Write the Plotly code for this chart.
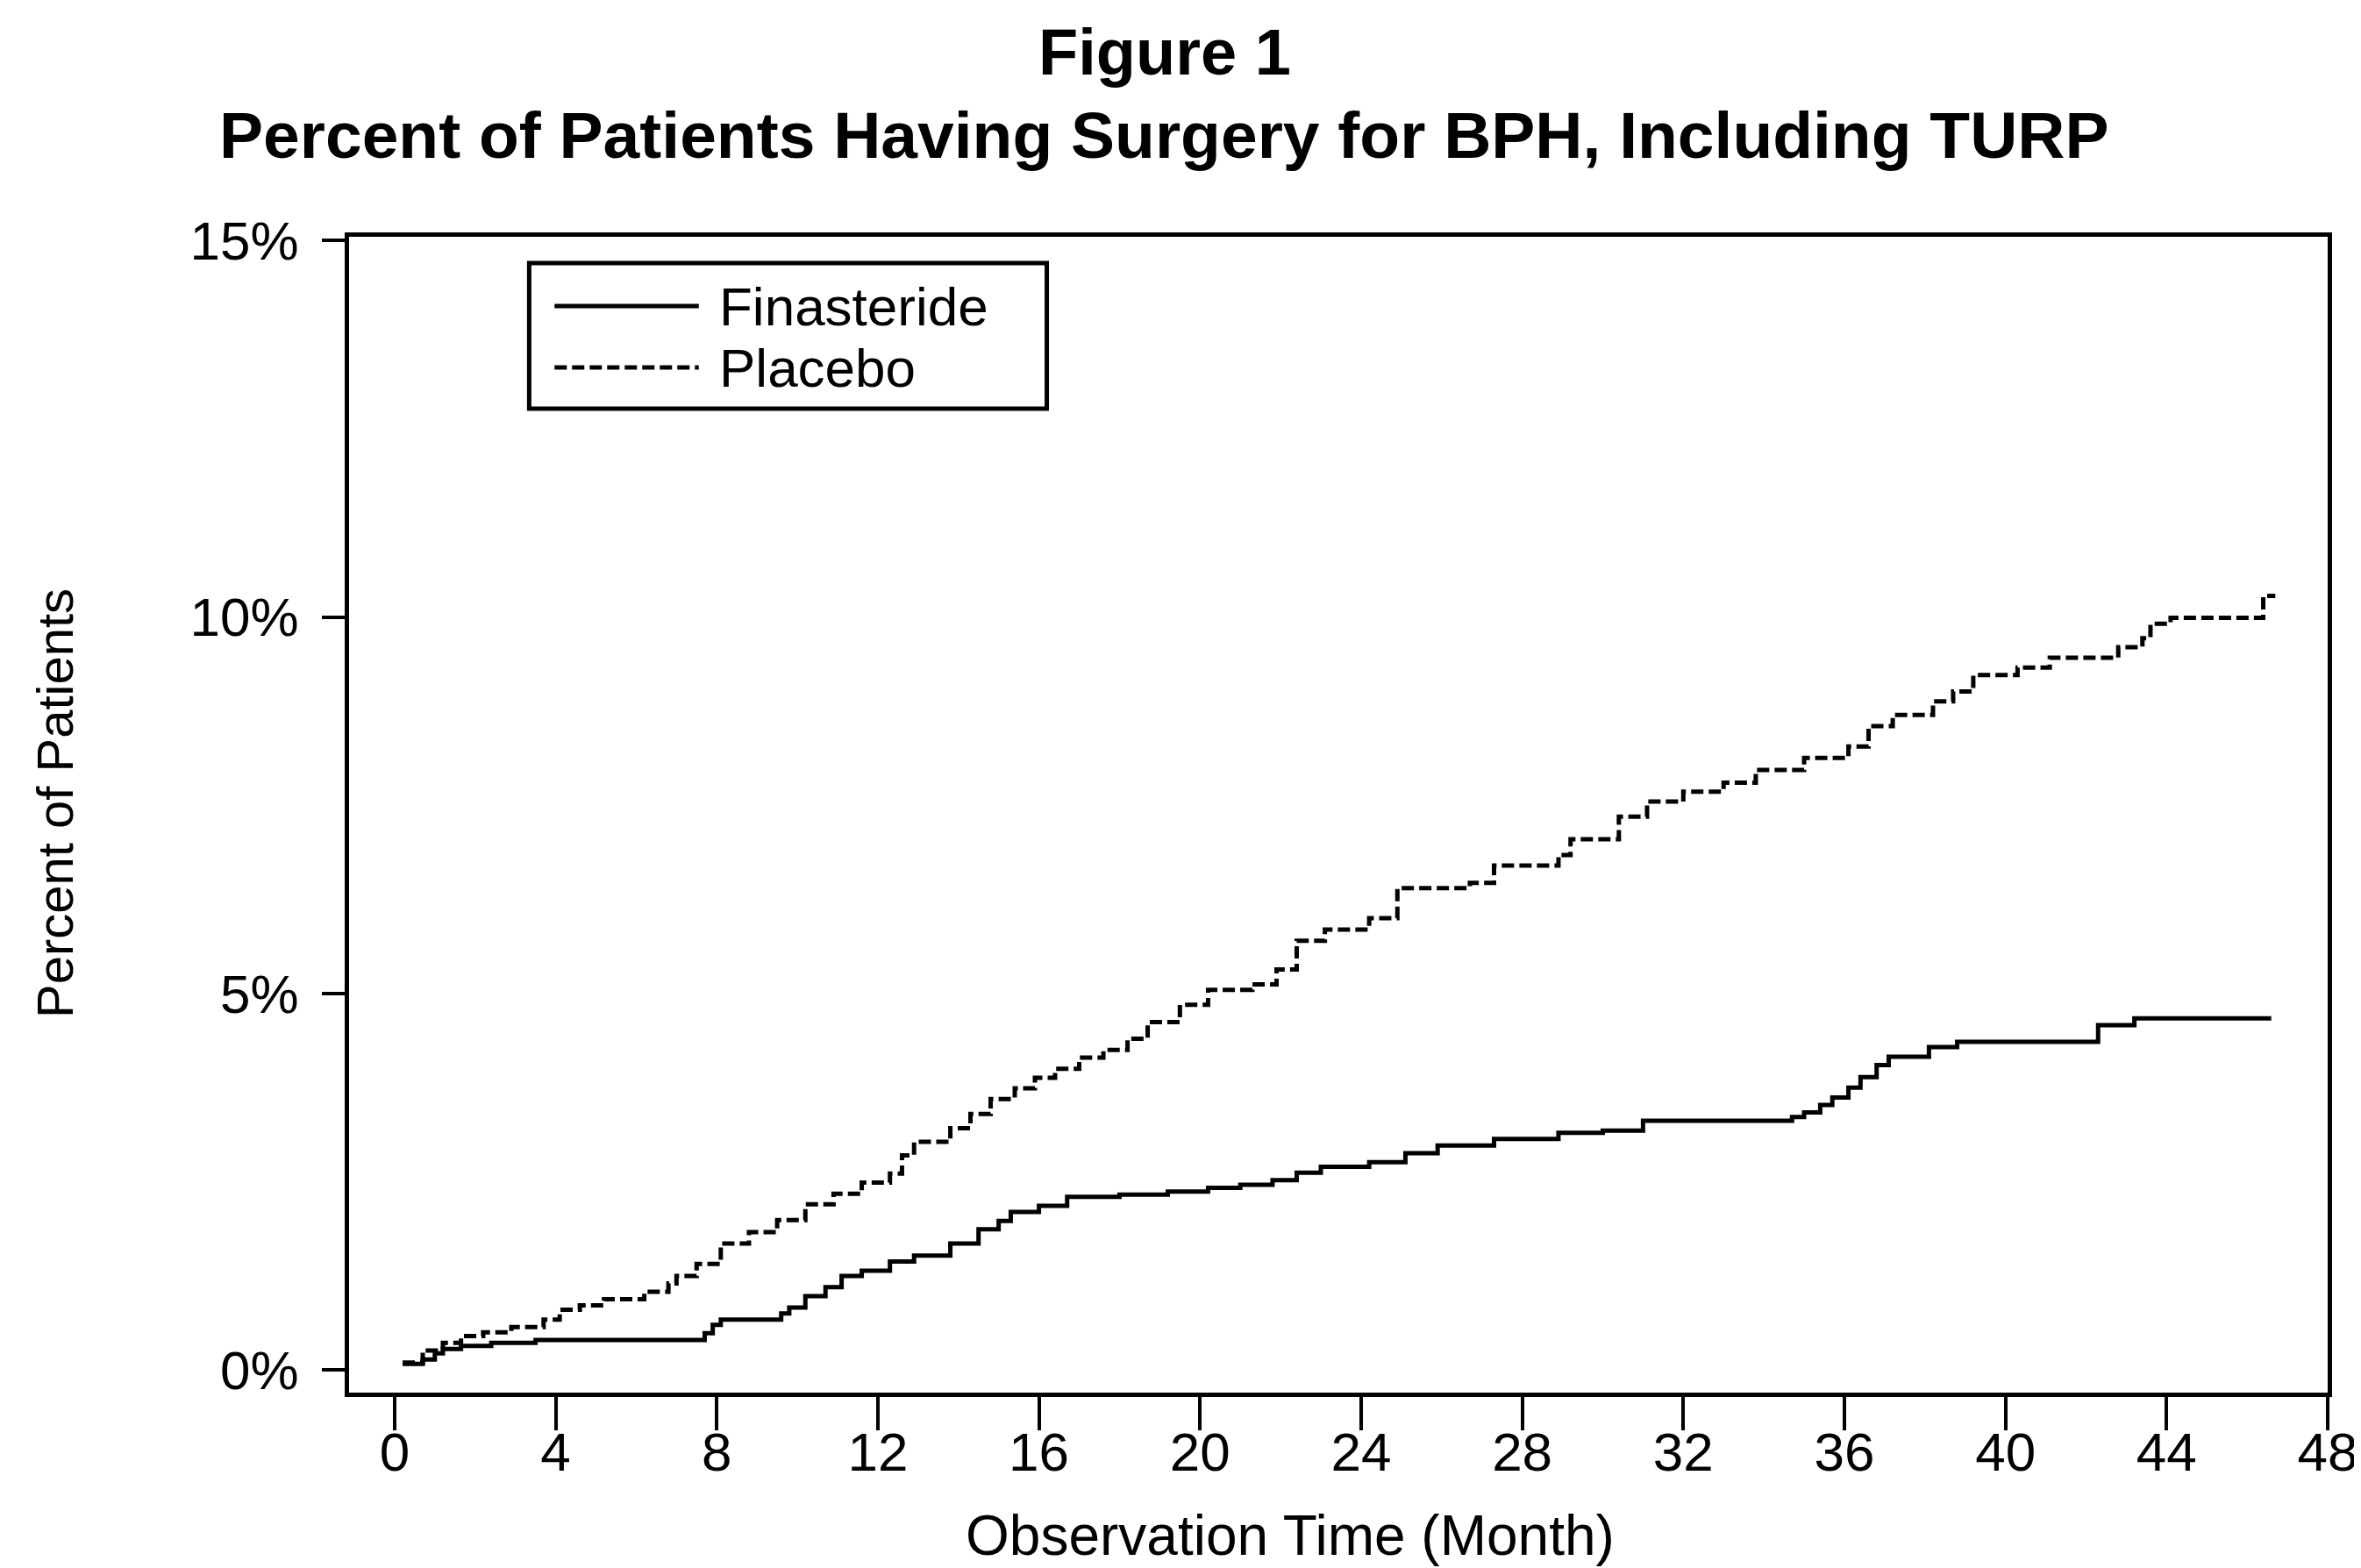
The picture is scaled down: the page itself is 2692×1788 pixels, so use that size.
import plotly.graph_objects as go

# ---- data (months, cumulative percent) ----
fin_months = [0.2, 0.7, 1.0, 1.2, 1.65, 2.4, 3.5, 7.7, 7.9, 8.1, 9.6, 9.8, 10.2, 10.7, 11.1, 11.6,
              12.3, 12.9, 13.8, 14.5, 15.0, 15.3, 16.0, 16.7, 18.0, 19.2, 20.2, 21.0, 21.8, 22.4,
              23.0, 24.2, 25.1, 25.9, 27.3, 28.9, 30.0, 31.0, 34.7, 35.0, 35.4, 35.7, 36.1, 36.4,
              36.8, 37.1, 38.1, 38.8, 42.3, 43.2, 46.6]
fin_pct = [0.08, 0.14, 0.22, 0.28, 0.32, 0.36, 0.40, 0.49, 0.60, 0.67, 0.75, 0.83, 0.98, 1.10, 1.25, 1.32,
           1.44, 1.52, 1.68, 1.87, 1.98, 2.10, 2.18, 2.30, 2.33, 2.37, 2.42, 2.46, 2.52, 2.62,
           2.70, 2.76, 2.88, 2.98, 3.07, 3.15, 3.18, 3.31, 3.36, 3.42, 3.52, 3.62, 3.75, 3.89,
           4.05, 4.16, 4.29, 4.36, 4.58, 4.67, 4.67]

pla_months = [0.2, 0.7, 1.2, 1.65, 2.2, 2.9, 3.7, 4.1, 4.6, 5.2, 6.2, 6.8, 7.0, 7.5, 8.1, 8.8, 9.5,
              10.2, 10.9, 11.6, 12.3, 12.6, 12.9, 13.8, 14.3, 14.8, 15.4, 15.9, 16.4, 17.0, 17.6,
              18.2, 18.7, 19.5, 20.2, 21.3, 21.9, 22.4, 23.1, 24.2, 24.9, 26.7, 27.3, 28.9, 29.2,
              30.4, 31.1, 32.0, 33.0, 33.8, 35.0, 36.1, 36.6, 37.2, 38.2, 38.7, 39.2, 40.3, 41.1,
              42.8, 43.4, 43.6, 44.1, 46.4, 46.7]
pla_pct = [0.10, 0.26, 0.36, 0.45, 0.50, 0.57, 0.67, 0.80, 0.86, 0.94, 1.04, 1.15, 1.25, 1.41, 1.68, 1.83, 1.99,
           2.20, 2.34, 2.49, 2.61, 2.85, 3.03, 3.21, 3.40, 3.60, 3.74, 3.88, 4.00, 4.15, 4.25,
           4.40, 4.62, 4.85, 5.05, 5.12, 5.32, 5.70, 5.85, 6.00, 6.40, 6.47, 6.70, 6.84, 7.05,
           7.35, 7.55, 7.68, 7.80, 7.97, 8.13, 8.28, 8.55, 8.70, 8.88, 9.01, 9.23, 9.33, 9.46,
           9.60, 9.72, 9.91, 9.99, 10.28, 10.28]

x_ticks = [0, 4, 8, 12, 16, 20, 24, 28, 32, 36, 40, 44, 48]
y_ticks = [0, 5, 10, 15]
y_tick_labels = ["0%", "5%", "10%", "15%"]

series_names = ["Finasteride", "Placebo"]
title_line1 = "Figure 1"
title_line2 = "Percent of Patients Having Surgery for BPH, Including TURP"
x_title = "Observation Time (Month)"
y_title = "Percent of Patients"

FONT = "Liberation Sans, Arial, Helvetica, sans-serif"
W, H = 2692, 1788
L, R, T, B = 390, 39, 262, 208

fig = go.Figure()
fig.add_trace(go.Scatter(x=fin_months, y=fin_pct, mode="lines", line_shape="hv",
                         line=dict(color="black", width=5), name=series_names[0],
                         showlegend=False))
fig.add_trace(go.Scatter(x=pla_months, y=pla_pct, mode="lines", line_shape="hv",
                         line=dict(color="black", width=5, dash="14px,6px"), name=series_names[1],
                         showlegend=False))

def px_x(px):
    return (px - L) / (W - L - R)

def px_y(py):
    return (H - B - py) / (H - T - B)

annotations = [
    dict(text="<b>" + title_line1 + "</b>", x=px_x(1323), y=px_y(52), xref="paper", yref="paper",
         xanchor="center", yanchor="middle", showarrow=False, font=dict(family=FONT, size=74, color="black")),
    dict(text="<b>" + title_line2 + "</b>", x=px_x(1322), y=px_y(146), xref="paper", yref="paper",
         xanchor="center", yanchor="middle", showarrow=False, font=dict(family=FONT, size=75, color="black")),
    dict(text=x_title, x=px_x(1466), y=px_y(1743), xref="paper", yref="paper",
         xanchor="center", yanchor="middle", showarrow=False, font=dict(family=FONT, size=64, color="black")),
    dict(text=y_title, x=px_x(53), y=px_y(908), xref="paper", yref="paper", textangle=-90,
         xanchor="center", yanchor="middle", showarrow=False, font=dict(family=FONT, size=58, color="black")),
]

# legend box (drawn manually to match the original sample lengths)
legend_rows_y = [341, 411]
shapes = [
    dict(type="rect", xref="paper", yref="paper", x0=px_x(596), x1=px_x(1188), y0=px_y(458), y1=px_y(292),
         line=dict(color="black", width=5), fillcolor="white"),
    dict(type="line", xref="paper", yref="paper", x0=px_x(625), x1=px_x(790),
         y0=px_y(legend_rows_y[0]), y1=px_y(legend_rows_y[0]), line=dict(color="black", width=5)),
    dict(type="line", xref="paper", yref="paper", x0=px_x(625), x1=px_x(790),
         y0=px_y(legend_rows_y[1]), y1=px_y(legend_rows_y[1]),
         line=dict(color="black", width=5, dash="14px,6px")),
]
for name, py in zip(series_names, legend_rows_y):
    annotations.append(dict(text=name, x=px_x(812), y=px_y(py), xref="paper", yref="paper",
                            xanchor="left", yanchor="middle", showarrow=False, borderpad=0,
                            font=dict(family=FONT, size=62, color="black")))

fig.update_layout(
    width=W, height=H,
    margin=dict(l=L, r=R, t=T, b=B, pad=0),
    paper_bgcolor="white", plot_bgcolor="white",
    font=dict(family=FONT, color="black"),
    annotations=annotations,
    shapes=shapes,
    showlegend=False,
)
fig.update_xaxes(range=[-1.13, 48], tickvals=x_ticks, ticks="outside", ticklen=38, tickwidth=4,
                 tickcolor="black", showline=True, linecolor="black", linewidth=5, mirror=True,
                 showgrid=False, zeroline=False, tickfont=dict(family=FONT, size=62, color="black"),
                 ticklabelstandoff=-28)
fig.update_yaxes(range=[-0.3, 15.05], tickvals=y_ticks, ticktext=y_tick_labels, ticks="outside",
                 ticklen=26, tickwidth=4, tickcolor="black", showline=True, linecolor="black",
                 linewidth=5, mirror=True, showgrid=False, zeroline=False,
                 tickfont=dict(family=FONT, size=62, color="black"), ticklabelstandoff=14)

fig.write_html("out.html")
